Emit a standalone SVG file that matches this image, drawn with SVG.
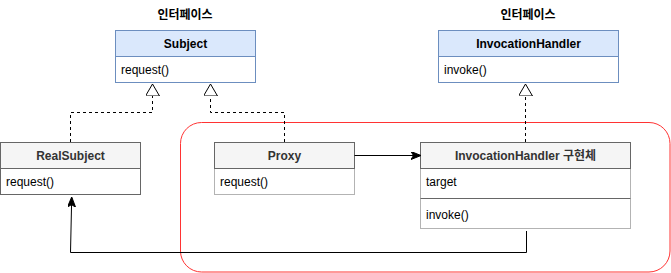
<svg xmlns="http://www.w3.org/2000/svg" width="671" height="273" viewBox="0 0 671 273">
  <style>
    text { font-family: "Liberation Sans", Arial, "Noto Sans CJK KR", sans-serif; font-size: 12px; }
    .title { font-weight: bold; text-anchor: middle; fill: #000; }
    .hdr-blue { fill: #dae8fc; stroke: #6c8ebf; stroke-width: 1; }
    .body-blue { fill: #ffffff; stroke: #6c8ebf; stroke-width: 1; }
    .hdr-gray { fill: #f5f5f5; stroke: #666666; stroke-width: 1; }
    .body-dark { fill: #ffffff; stroke: #666666; stroke-width: 1; }
    .body-light { fill: #ffffff; stroke: #b3b3b3; stroke-width: 1; }
    .name { font-weight: bold; text-anchor: middle; fill: #000; }
    .name-gray { font-weight: bold; text-anchor: middle; fill: #333333; }
    .member { fill: #000; }
    .realize { fill: none; stroke: #000; stroke-width: 1; stroke-dasharray: 3 3; }
    .assoc { fill: none; stroke: #000; stroke-width: 1; }
  </style>
  <defs>
    <marker id="hollowTri" viewBox="0 0 12 14" refX="12" refY="7" markerWidth="12" markerHeight="14" markerUnits="userSpaceOnUse" orient="auto">
      <path d="M0,0 L12,7 L0,14 Z" fill="#fff" stroke="#000" stroke-width="1"/>
    </marker>
    <marker id="arrow" viewBox="0 0 10 8" refX="9" refY="4" markerWidth="10" markerHeight="8" markerUnits="userSpaceOnUse" orient="auto">
      <path d="M0,0 L10,4 L0,8 L2.5,4 Z" fill="#000" stroke="#000" stroke-width="1"/>
    </marker>
  </defs>

  <!-- proxy boundary -->
  <rect id="proxy-area" x="180.5" y="122.5" width="489.5" height="149.5" rx="21" ry="21" fill="none" stroke="#ff3333" stroke-width="1"/>

  <!-- interface captions -->
  <text class="title" x="185" y="19">인터페이스</text>
  <text class="title" x="528" y="19">인터페이스</text>

  <g id="subject">
    <rect class="hdr-blue" x="115.5" y="30.5" width="140" height="26"/>
    <rect class="body-blue" x="115.5" y="56.5" width="140" height="26"/>
    <text class="name" x="185.5" y="47.5">Subject</text>
    <text class="member" x="121" y="74">request()</text>
  </g>

  <g id="invocation-handler">
    <rect class="hdr-blue" x="438.5" y="30.5" width="180" height="26"/>
    <rect class="body-blue" x="438.5" y="56.5" width="180" height="26"/>
    <text class="name" x="528.5" y="47.5">InvocationHandler</text>
    <text class="member" x="444" y="74">invoke()</text>
  </g>

  <g id="real-subject">
    <rect class="hdr-gray" x="0.5" y="142.5" width="140" height="26"/>
    <rect class="body-dark" x="0.5" y="168.5" width="140" height="26"/>
    <text class="name-gray" x="70.5" y="159.5">RealSubject</text>
    <text class="member" x="6" y="186">request()</text>
  </g>

  <g id="proxy">
    <rect class="body-light" x="214.5" y="168.5" width="140" height="26"/>
    <rect class="hdr-gray" x="214.5" y="142.5" width="140" height="26"/>
    <text class="name-gray" x="284.5" y="159.5">Proxy</text>
    <text class="member" x="220" y="186">request()</text>
  </g>

  <g id="handler-impl">
    <rect class="body-light" x="420.5" y="168.5" width="210" height="60"/>
    <rect class="hdr-gray" x="420.5" y="142.5" width="210" height="26"/>
    <line x1="420.5" y1="198.5" x2="630.5" y2="198.5" stroke="#666666" stroke-width="1"/>
    <text class="name-gray" x="525.5" y="159.5">InvocationHandler 구현체</text>
    <text class="member" x="426" y="186">target</text>
    <text class="member" x="426" y="219">invoke()</text>
  </g>

  <g id="connectors">
    <!-- realizations -->
    <path class="realize" d="M70.5,142 L70.5,112.5 L152.5,112.5 L152.5,84" marker-end="url(#hollowTri)"/>
    <path class="realize" d="M284.5,142 L284.5,112.5 L210.5,112.5 L210.5,84" marker-end="url(#hollowTri)"/>
    <path class="realize" d="M525.5,142 L525.5,84" marker-end="url(#hollowTri)"/>
    <!-- Proxy to handler -->
    <path class="assoc" d="M354.5,155.5 L420,155.5" marker-end="url(#arrow)"/>
    <!-- handler delegates to RealSubject -->
    <path class="assoc" d="M526.5,231 L526.5,252.5 L70.5,252.5 L71.7,198" marker-end="url(#arrow)"/>
  </g>
</svg>
